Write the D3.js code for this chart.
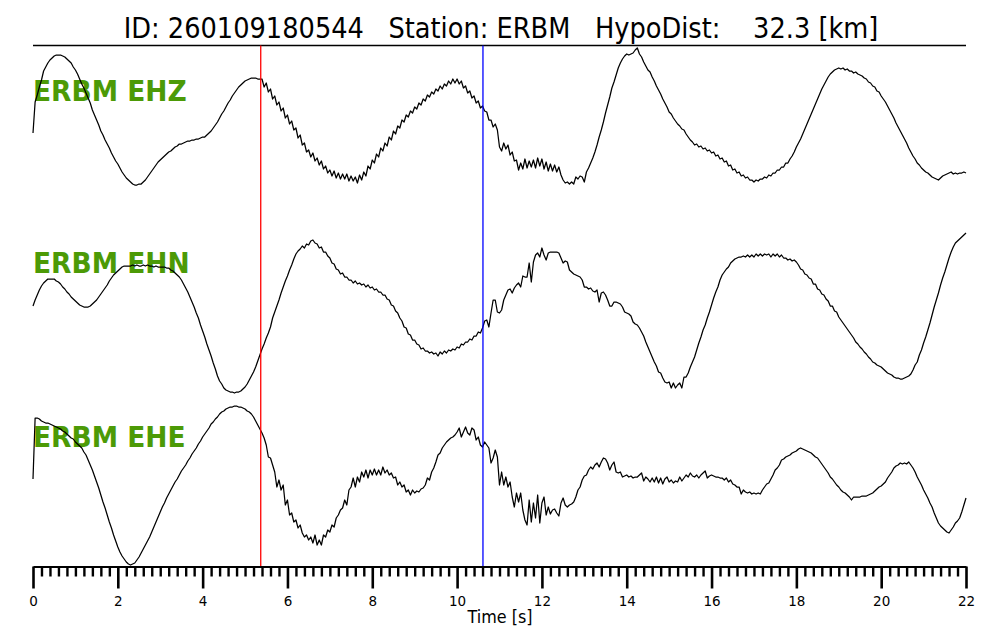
<!DOCTYPE html>
<html><head><meta charset="utf-8">
<script src="https://cdn.jsdelivr.net/npm/d3@7"></script>
<style>html,body{margin:0;padding:0;background:#fff;} svg{display:block;}</style>
</head><body>
<svg id="chart" width="1000" height="640"></svg>
<script>
// ---------------- data ----------------
const titleText = "ID: 260109180544   Station: ERBM   HypoDist:    32.3 [km]";
const channels = ["ERBM EHZ", "ERBM EHN", "ERBM EHE"];
const sampleInterval = 0.05;           // seconds between samples
const pickTimes = [5.37, 10.61];       // P (red), S (blue)
const majorTicks = [0, 2, 4, 6, 8, 10, 12, 14, 16, 18, 20, 22];
const xLabel = "Time [s]";

const ehz = [
-17,14,21,29,36,45,49,53,56,58,60,61,61,61,60,59,57,55,53,49,
46,42,37,32,28,23,18,13,6,1,-4,-9,-15,-19,-24,-28,-32,-37,-41,-45,
-48,-52,-56,-59,-62,-64,-66,-68,-69,-69,-68,-68,-66,-64,-61,-58,-55,-52,-49,-46,
-44,-42,-40,-38,-36,-35,-33,-31,-30,-28,-28,-27,-26,-25,-25,-24,-24,-23,-23,-22,
-21,-21,-19,-17,-15,-12,-9,-6,-2,2,5,9,13,16,20,23,26,29,31,33,
35,36,37,38,38,38,37,37,37,29,33,24,27,17,20,11,14,5,8,-2,
1,-8,-5,-14,-12,-22,-19,-29,-27,-36,-34,-41,-37,-45,-42,-49,-45,-53,-50,-57,
-54,-60,-55,-62,-57,-63,-58,-63,-58,-65,-60,-65,-61,-67,-59,-64,-56,-60,-50,-53,
-44,-47,-38,-41,-32,-35,-27,-30,-21,-24,-15,-18,-10,-12,-4,-6,1,-1,5,3,
9,7,13,11,17,15,21,19,24,22,27,25,30,27,32,30,35,32,37,33,
37,32,35,28,30,23,25,18,20,13,15,8,10,5,4,-4,-4,-11,-8,-14,
-31,-35,-27,-33,-29,-39,-36,-45,-44,-54,-47,-53,-43,-52,-45,-51,-44,-52,-42,-50,
-43,-53,-46,-55,-48,-55,-49,-56,-51,-59,-64,-67,-66,-68,-66,-68,-61,-63,-60,-61,
-66,-56,-52,-47,-42,-36,-29,-21,-14,-6,3,11,19,28,34,41,48,53,57,60,
62,61,62,63,66,68,62,59,54,50,46,44,39,35,30,26,22,17,13,9,
4,2,-2,-5,-8,-10,-13,-14,-18,-21,-24,-26,-29,-28,-31,-30,-33,-32,-35,-34,
-37,-36,-40,-39,-43,-42,-46,-45,-50,-49,-54,-53,-57,-56,-60,-59,-62,-61,-64,-64,
-66,-64,-65,-63,-63,-61,-62,-59,-60,-57,-57,-54,-54,-51,-51,-47,-47,-43,-40,-36,
-31,-27,-23,-18,-13,-8,-3,2,7,12,17,22,27,31,35,39,42,44,46,47,
48,47,48,46,47,45,45,43,44,42,41,40,38,37,34,33,30,29,25,24,
20,17,14,10,6,2,-2,-7,-11,-15,-19,-23,-27,-32,-36,-40,-43,-47,-49,-52,
-54,-56,-57,-59,-61,-62,-63,-64,-62,-60,-59,-58,-57,-56,-58,-57,-58,-57,-57,-56,
-57
];

const ehn = [
7,13,18,23,27,30,32,34,34,34,34,32,31,29,26,24,21,19,16,14,
12,10,8,7,6,6,6,7,9,11,13,16,19,22,25,28,32,35,38,40,
42,44,46,47,47,47,47,48,47,48,47,47,48,47,48,47,47,46,47,46,
46,46,46,45,45,43,42,40,38,36,33,29,25,21,16,11,6,0,-5,-12,
-18,-24,-31,-37,-43,-50,-56,-63,-68,-71,-75,-77,-78,-79,-79,-80,-79,-79,-78,-76,
-74,-71,-67,-63,-59,-54,-48,-42,-36,-31,-25,-20,-14,-5,1,7,13,20,26,32,
37,43,48,54,59,62,64,67,65,69,68,72,73,70,69,65,66,61,61,57,
55,50,49,44,43,39,40,36,36,33,33,30,32,29,30,28,29,26,28,25,
26,23,24,21,21,18,18,14,13,8,7,2,0,-5,-8,-14,-15,-21,-22,-27,
-27,-31,-32,-36,-35,-38,-38,-40,-39,-41,-40,-43,-39,-41,-38,-40,-37,-38,-36,-37,
-34,-35,-31,-32,-29,-29,-26,-27,-23,-23,-19,-20,-15,-8,-7,-14,0,13,13,1,
0,3,13,18,23,24,20,25,28,30,26,37,36,36,50,31,51,58,60,56,
65,58,53,60,61,61,61,61,60,55,50,52,51,43,41,39,38,37,36,33,
26,26,24,25,22,21,23,11,20,21,18,13,7,7,11,11,10,9,6,1,
0,-1,-3,-9,-11,-12,-15,-19,-23,-29,-34,-39,-44,-49,-53,-59,-60,-65,-69,-70,
-69,-75,-70,-75,-72,-70,-75,-64,-64,-60,-54,-49,-44,-37,-30,-24,-17,-12,-5,1,
8,15,21,26,33,38,41,44,46,50,52,54,55,56,56,57,56,58,56,58,
56,59,57,59,57,59,58,59,56,59,57,59,56,58,55,55,53,54,52,53,
51,48,44,43,39,38,35,34,29,29,24,23,19,18,14,12,7,7,2,1,
-4,-7,-10,-13,-16,-19,-22,-25,-29,-31,-34,-36,-39,-41,-44,-46,-49,-50,-52,-53,
-54,-56,-58,-60,-61,-62,-64,-65,-65,-66,-66,-65,-64,-63,-61,-57,-52,-49,-42,-37,
-30,-24,-17,-10,-2,6,13,20,28,35,41,48,55,61,66,70,72,74,76,78,
80
];

const ehe = [
6,67,67,66,64,63,62,62,61,60,59,58,57,56,54,53,51,49,47,46,
43,41,39,37,33,30,25,20,15,9,3,-3,-10,-17,-23,-30,-37,-43,-50,-56,
-62,-67,-71,-74,-77,-79,-80,-79,-78,-75,-72,-68,-64,-60,-56,-52,-47,-42,-37,-32,
-27,-22,-18,-13,-9,-5,-1,3,6,10,14,17,20,24,27,31,34,37,41,44,
48,51,54,57,61,63,66,68,71,73,74,76,77,78,78,79,79,78,78,77,
76,74,73,71,68,64,60,56,52,47,40,28,27,20,13,-2,5,-5,0,-20,
-15,-30,-28,-37,-35,-43,-40,-48,-52,-50,-55,-52,-58,-50,-60,-55,-60,-50,-52,-45,
-47,-40,-42,-33,-30,-25,-23,-15,-20,-5,-2,7,-2,8,3,13,8,15,7,15,
10,16,10,15,10,18,12,15,10,12,7,8,0,3,-2,0,-7,-5,-10,-5,
-8,-6,-7,-4,-3,0,7,5,13,17,23,30,32,37,40,43,45,47,48,50,
53,57,48,53,58,52,50,57,55,45,48,40,38,43,40,37,22,27,35,28,
0,13,0,8,-2,3,-12,-22,-8,-17,-8,-25,-35,-40,-15,-37,-18,-33,-10,-38,
-18,-12,-30,-22,-29,-25,-24,-28,-31,-18,-13,-20,-22,-20,-19,-17,-12,-5,-2,5,
9,10,15,18,16,20,22,18,23,27,26,22,15,20,23,13,12,13,8,9,
10,8,9,7,8,8,10,12,4,8,6,3,7,3,8,2,7,1,6,8,
3,5,2,4,3,8,4,7,10,8,12,9,8,10,7,10,12,14,7,9,
10,9,8,8,7,7,5,7,3,5,1,0,-2,-2,-9,-5,-7,-8,-7,-9,
-8,-9,-8,-9,-5,-2,1,2,6,10,15,17,20,25,26,28,29,30,32,33,
34,36,37,36,35,34,33,32,30,28,27,24,21,18,15,12,8,6,3,0,
-2,-5,-7,-8,-10,-12,-15,-12,-12,-12,-12,-11,-11,-11,-10,-9,-8,-6,-4,-2,
-1,1,3,7,10,13,17,19,20,22,21,22,21,23,20,17,13,8,4,0,
-5,-9,-13,-18,-22,-28,-33,-38,-41,-43,-45,-47,-48,-45,-42,-38,-36,-33,-27,-20,
-13
];

const traces = [ehz, ehn, ehe];
const traceDomains = [[-70, 70], [-80, 80], [-80, 80]];

// ---------------- layout ----------------
const svg = d3.select("#chart");
const left = 33, right = 966, topLine = 45.5, axisY = 566.5;
const bands = [[186, 46], [393, 233], [565, 405]];
const labelBaselines = [101, 273, 447];

const x = d3.scaleLinear().domain([0, 22]).range([left, right]);
const yScales = traceDomains.map((d, i) => d3.scaleLinear().domain(d).range(bands[i]));

// title
svg.append("text")
  .attr("transform", `translate(501,37.5) scale(1,1.1)`)
  .attr("text-anchor", "middle")
  .style("font-family", "'DejaVu Sans', sans-serif")
  .style("font-size", "25.7px")
  .style("white-space", "pre")
  .attr("xml:space", "preserve")
  .attr("fill", "#000")
  .text(titleText);

svg.append("line")
  .attr("x1", left).attr("x2", right)
  .attr("y1", topLine).attr("y2", topLine)
  .attr("stroke", "#000").attr("stroke-width", 1.4);

// channel labels
channels.forEach((c, i) => {
  svg.append("text")
    .attr("transform", `translate(${left},${labelBaselines[i]}) scale(1,1.1)`)
    .style("font-family", "'DejaVu Sans', sans-serif")
    .style("font-weight", "bold")
    .style("font-size", "26.5px")
    .attr("fill", "#4c9a06")
    .text(c);
});

// traces
traces.forEach((vals, i) => {
  const line = d3.line()
    .x((d, j) => x(j * sampleInterval))
    .y(d => yScales[i](d));
  svg.append("path")
    .attr("d", line(vals))
    .attr("fill", "none")
    .attr("stroke", "#000")
    .attr("stroke-width", 1.25)
    .attr("stroke-linejoin", "round");
});

// picks
const pickColors = ["#ff0000", "#0000ff"];
pickTimes.forEach((t, i) => {
  svg.append("line")
    .attr("x1", x(t)).attr("x2", x(t))
    .attr("y1", topLine).attr("y2", axisY)
    .attr("stroke", pickColors[i]).attr("stroke-width", 1.3);
});

// axis: minor ticks
const minorTicks = d3.range(0, 110).map(k => k * 0.2).filter(v => Math.abs(v / 2 - Math.round(v / 2)) > 1e-6);
const minorAxis = d3.axisBottom(x).tickValues(minorTicks).tickSize(10).tickSizeOuter(0).tickFormat("");
const gMinor = svg.append("g").attr("transform", `translate(0,${axisY})`).call(minorAxis);
gMinor.select(".domain").attr("stroke", "#000").attr("stroke-width", 2);
gMinor.selectAll(".tick line").attr("stroke", "#000").attr("stroke-width", 2.4);

const majorAxis = d3.axisBottom(x).tickValues(majorTicks).tickSize(22).tickSizeOuter(0).tickPadding(8).tickFormat(d3.format("d"));
const gMajor = svg.append("g").attr("transform", `translate(0,${axisY})`).call(majorAxis);
gMajor.select(".domain").remove();
gMajor.selectAll(".tick line").attr("stroke", "#000").attr("stroke-width", 2.6);
gMajor.selectAll(".tick text")
  .attr("fill", "#000")
  .style("font-family", "'DejaVu Sans', sans-serif")
  .style("font-size", "13.5px");

svg.append("text")
  .attr("transform", `translate(500,623) scale(1,1.12)`)
  .attr("text-anchor", "middle")
  .style("font-family", "'DejaVu Sans', sans-serif")
  .style("font-size", "16px")
  .attr("fill", "#000")
  .text(xLabel);
</script>
</body></html>
